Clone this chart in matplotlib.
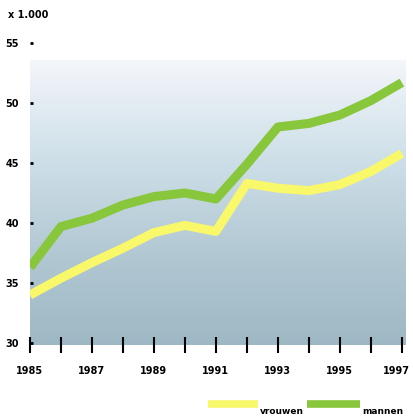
import numpy as np
import matplotlib.pyplot as plt
import matplotlib.transforms as mtransforms
from matplotlib.colors import LinearSegmentedColormap
from matplotlib.lines import Line2D

years = list(range(1985, 1998))
vrouwen = [34.0, 35.4, 36.7, 37.9, 39.2, 39.8, 39.3, 43.3, 42.9, 42.7, 43.2, 44.3, 45.8]
mannen = [36.3, 39.7, 40.4, 41.5, 42.2, 42.5, 42.0, 44.9, 48.0, 48.3, 49.0, 50.2, 51.7]
tick_labels = ["1985", "1987", "1989", "1991", "1993", "1995", "1997"]

fig = plt.figure(figsize=(4.13, 4.17), dpi=100)
ax = fig.add_axes([0.0726, 0.1717, 0.908, 0.7252])
ax.set_xlim(1985, 1997.1)
ax.set_ylim(29.8, 55)

# dotted gradient background, approximated by a smooth fade
cmap = LinearSegmentedColormap.from_list("bg", ["#9db8c4", "#b3c9d4", "#cfe0e9", "#f4f6fb"])
grad = np.linspace(0, 1, 256).reshape(-1, 1)
ax.imshow(grad, cmap=cmap, origin="lower", aspect="auto",
          extent=(1984.9, 1997.15, 29.8, 53.5), zorder=0)

ax.plot(years, vrouwen, color="#f9f76a", lw=6.5, solid_capstyle="butt", zorder=3)
ax.plot(years, mannen, color="#88c63c", lw=6.5, solid_capstyle="butt", zorder=3)

for s in ax.spines.values():
    s.set_visible(False)

ax.set_yticks([30, 35, 40, 45, 50, 55])
ax.set_yticklabels(["30", "35", "40", "45", "50", "55"])
ax.set_xticks(years)
ax.set_xticklabels([tick_labels[i // 2] if i % 2 == 0 else "" for i in range(len(years))])
ax.tick_params(axis="x", direction="inout", length=12, width=1.5, color="black",
               pad=9, labelsize=7)
ax.tick_params(axis="y", direction="in", length=2, width=2, color="black",
               pad=8, labelsize=7)
for lab in ax.get_xticklabels() + ax.get_yticklabels():
    lab.set_fontweight("bold")

# keep the last year label inside the figure
last = ax.get_xticklabels()[-1]
last.set_horizontalalignment("right")
last.set_transform(last.get_transform() +
                   mtransforms.ScaledTranslation(0.08, 0, fig.dpi_scale_trans))

fig.text(0.02, 0.963, "x 1.000", fontsize=7, fontweight="bold", va="center")

# legend
fig.add_artist(Line2D([208 / 413, 258 / 413], [13.5 / 417, 13.5 / 417],
                      color="#f9f76a", lw=5.5, solid_capstyle="butt"))
fig.add_artist(Line2D([307 / 413, 360 / 413], [13.5 / 417, 13.5 / 417],
                      color="#88c63c", lw=5.5, solid_capstyle="butt"))
fig.text(260 / 413, 1.5 / 417, "vrouwen", fontsize=6.5, fontweight="bold", va="bottom")
fig.text(362 / 413, 1.5 / 417, "mannen", fontsize=6.5, fontweight="bold", va="bottom")

fig.savefig("out.png", dpi=100)
